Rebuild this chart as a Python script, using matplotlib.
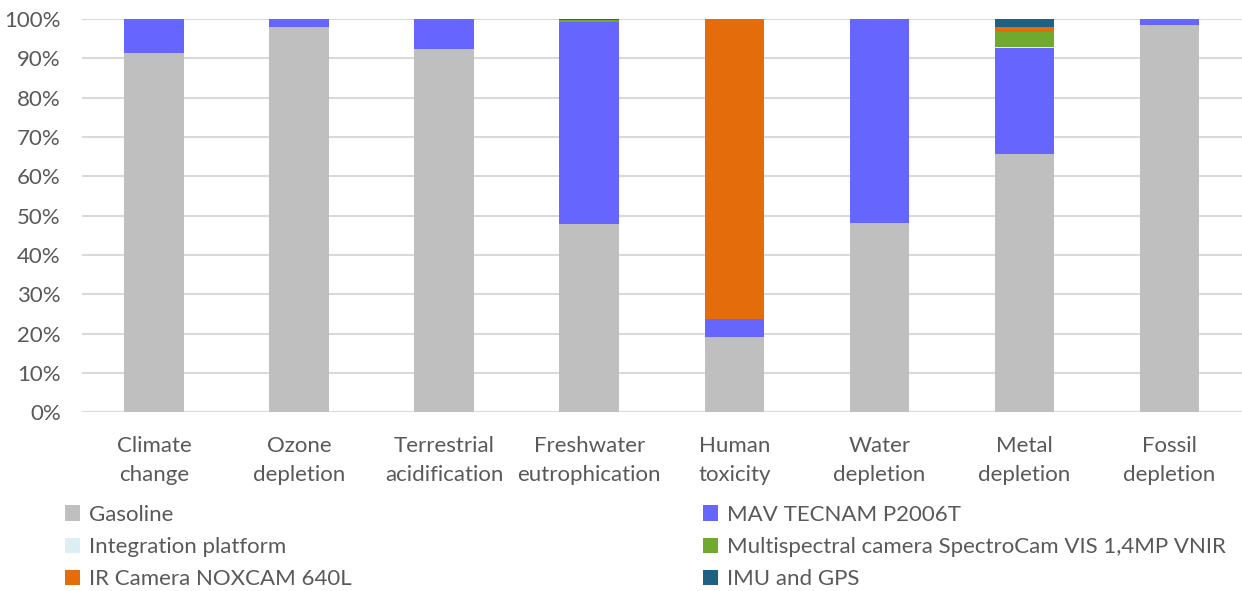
import numpy as np
import matplotlib.pyplot as plt

# impact categories and share of each component (%)
categorias = ['Climate\nchange', 'Ozone\ndepletion', 'Terrestrial\nacidification',
              'Freshwater\neutrophication', 'Human\ntoxicity', 'Water\ndepletion',
              'Metal\ndepletion', 'Fossil\ndepletion']

gasoline = [91.3, 98.0, 92.4, 48.0, 19.2, 48.2, 65.7, 98.5]
mav = [8.7, 2.0, 7.6, 51.2, 4.4, 51.8, 26.9, 1.5]
integration = [0, 0, 0, 0, 0, 0, 0.4, 0]
multispectral = [0, 0, 0, 0.6, 0, 0, 3.7, 0]
ir_camera = [0, 0, 0, 0, 76.4, 0, 1.2, 0]
imu_gps = [0, 0, 0, 0.2, 0, 0, 2.1, 0]

series = [('Gasoline', gasoline, '#BFBFBF'),
          ('MAV TECNAM P2006T', mav, '#6666FF'),
          ('Integration platform', integration, '#DAEEF3'),
          ('Multispectral camera SpectroCam VIS 1,4MP VNIR', multispectral, '#6FAA2F'),
          ('IR Camera NOXCAM 640L', ir_camera, '#E46C0A'),
          ('IMU and GPS', imu_gps, '#1F6183')]

plt.rcParams['font.family'] = ['Lato', 'DejaVu Sans']
gris = '#595959'
fs = 16

fig = plt.figure(figsize=(12.42, 5.91), dpi=100)
ax = fig.add_axes([81.5/1242, 1 - 412.3/591, 1 - 81.5/1242, (412.3 - 19)/591])

x = np.arange(len(categorias))
base = np.zeros(len(categorias))
barras = {}
for nombre, valores, color in series:
    v = np.array(valores, dtype=float)
    barras[nombre] = ax.bar(x, v, 0.41, bottom=base, color=color, label=nombre, zorder=3)
    base += v

ax.set_ylim(0, 100)
ax.set_xlim(-0.5, len(categorias) - 0.5)
ax.set_yticks(np.arange(0, 101, 10))
ax.set_yticklabels([f'{t}%' for t in range(0, 101, 10)])
ax.set_xticks(x)
ax.set_xticklabels(categorias, linespacing=1.58)
ax.tick_params(length=0, labelsize=fs, colors=gris)
ax.tick_params(axis='x', pad=17)
ax.tick_params(axis='y', pad=15)
ax.grid(axis='y', color='#D9D9D9', lw=1.5, zorder=0)
for s in ax.spines.values():
    s.set_visible(False)

# legend: two single-column blocks
izq = ['Gasoline', 'Integration platform', 'IR Camera NOXCAM 640L']
der = ['MAV TECNAM P2006T', 'Multispectral camera SpectroCam VIS 1,4MP VNIR', 'IMU and GPS']
opts = dict(loc='upper left', frameon=False, fontsize=fs, handlelength=0.7,
            handleheight=0.7, handletextpad=0.4, labelspacing=0.55,
            labelcolor=gris, borderaxespad=0)
leg1 = fig.legend([barras[n] for n in izq], izq,
                  bbox_to_anchor=(56/1242, 1 - 496/591), **opts)
leg2 = fig.legend([barras[n] for n in der], der,
                  bbox_to_anchor=(694/1242, 1 - 496/591), **opts)

fig.savefig('out.png', dpi=100)
